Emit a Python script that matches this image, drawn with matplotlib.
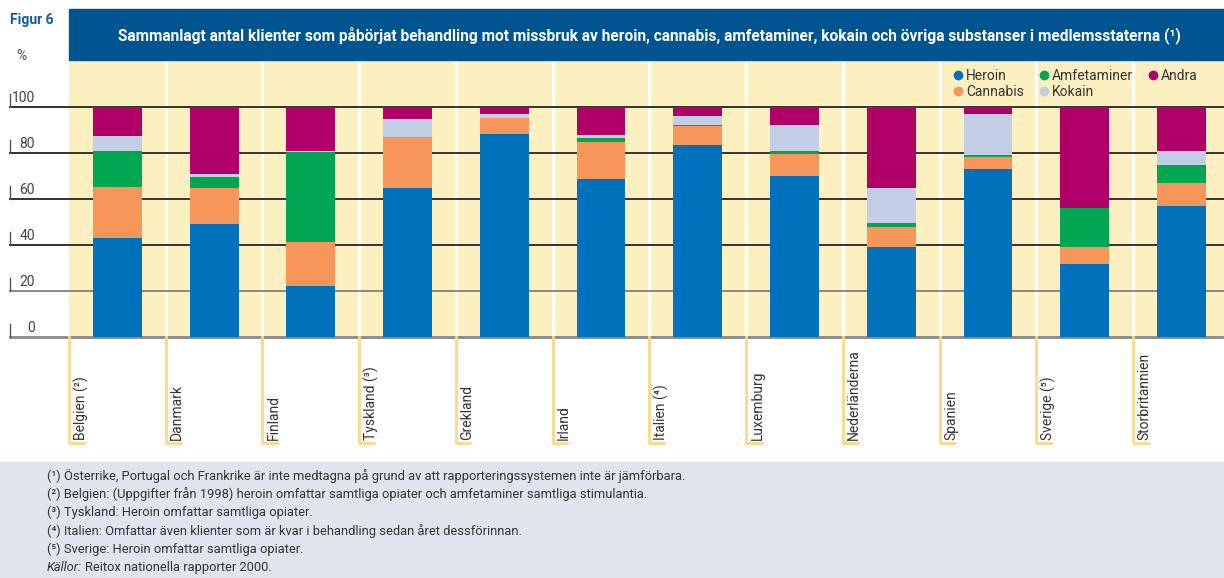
import numpy as np
import matplotlib
matplotlib.use("Agg")
import matplotlib.pyplot as plt
from matplotlib.lines import Line2D

plt.rcParams['font.family'] = ['Roboto', 'DejaVu Sans']

countries = ["Belgien (²)", "Danmark", "Finland", "Tyskland (³)", "Grekland", "Irland",
             "Italien (⁴)", "Luxemburg", "Nederländerna", "Spanien", "Sverige (⁵)",
             "Storbritannien"]
heroin      = [43.0, 49.0, 22.2, 64.7, 88.3, 68.8, 83.6, 70.0, 39.1, 73.0, 31.7, 57.0]
cannabis    = [22.0, 15.7, 19.1, 22.3,  7.0, 16.0,  7.9,  9.6,  8.7,  5.3,  7.4, 10.0]
amfetaminer = [16.0,  4.8, 39.1,  0.0,  0.0,  1.8,  0.5,  1.3,  1.8,  0.8, 17.0,  7.8]
kokain      = [ 6.5,  1.3,  0.5,  7.9,  1.8,  1.3,  4.2, 11.3, 15.2, 17.9,  0.0,  6.1]
andra       = [12.5, 29.2, 19.1,  5.1,  2.9, 12.1,  3.8,  7.8, 35.2,  3.0, 43.9, 19.1]

series = [("Heroin", heroin, "#0072bc"),
          ("Cannabis", cannabis, "#f7965a"),
          ("Amfetaminer", amfetaminer, "#00a651"),
          ("Kokain", kokain, "#c2cee4"),
          ("Andra", andra, "#b00068")]

title = ("Sammanlagt antal klienter som påbörjat behandling mot missbruk av heroin, "
         "cannabis, amfetaminer, kokain och övriga substanser i medlemsstaterna (¹)")
notes = ["(¹) Österrike, Portugal och Frankrike är inte medtagna på grund av att rapporteringssystemen inte är jämförbara.",
         "(²) Belgien: (Uppgifter från 1998) heroin omfattar samtliga opiater och amfetaminer samtliga stimulantia.",
         "(³) Tyskland: Heroin omfattar samtliga opiater.",
         "(⁴) Italien: Omfattar även klienter som är kvar i behandling sedan året dessförinnan.",
         "(⁵) Sverige: Heroin omfattar samtliga opiater."]
yticks = [0, 20, 40, 60, 80, 100]

W, H = 1224, 578
fig = plt.figure(figsize=(W / 100, H / 100), dpi=100)

# footnote box
fig.patches.append(plt.Rectangle((0, 0), 1, 1 - 462 / H, transform=fig.transFigure,
                                  color="#dfe4ef", zorder=0))
# title banner
fig.patches.append(plt.Rectangle((69 / W, 1 - 60 / H), 1 - 69 / W, 51 / H,
                                  transform=fig.transFigure, color="#00548f", zorder=0))
fig.text(649 / W, 1 - 35 / H, title, color="white", fontsize=11.2, fontweight="bold",
         ha="center", va="center")
fig.text(10 / W, 1 - 20 / H, "Figur 6", color="#0a5fa0", fontsize=10,
         fontweight="bold", ha="left", va="center")
fig.text(16 / W, 1 - 56 / H, "%", color="#555555", fontsize=10, ha="left", va="center")

ax = fig.add_axes([69 / W, 1 - 337 / H, 1 - 69 / W, (337 - 60) / H])
ax.set_facecolor("#fdf0c0")
n = len(countries)
ax.set_xlim(0, 11.94)
ax.set_ylim(0, 120.4)
for s in ax.spines.values():
    s.set_visible(False)
ax.set_xticks([])
ax.set_yticks([])

# white slot separators
for i in range(1, n):
    ax.axvline(i, color="white", lw=2, zorder=0.5)

# grid lines extended into left margin, with small tick marks and labels
ytr = ax.get_yaxis_transform()
x0 = (10 - 69) / (W - 69)
xl = (35 - 69) / (W - 69)
for v in yticks:
    col = "#888888" if v in (0, 20) else "#333333"
    lw = 2.0 if v == 0 else 1.4
    ax.add_line(Line2D([x0, 1], [v, v], transform=ytr, color=col, lw=lw,
                       clip_on=False, zorder=1))
    ax.add_line(Line2D([x0, x0], [v, v + 5.5], transform=ytr, color="#555555", lw=1,
                       clip_on=False, zorder=1))
    ax.text(xl, v + 1.0, str(v), transform=ytr, ha="right", va="bottom",
            fontsize=10, color="#444444", clip_on=False)

# stacked bars
x = np.arange(n) + 0.5
bottom = np.zeros(n)
for name, vals, color in series:
    vals = np.array(vals)
    ax.bar(x, vals, width=0.505, bottom=bottom, color=color, label=name, zorder=2)
    bottom += vals

# category label brackets and rotated labels
xtr = ax.get_xaxis_transform()
yb = -(443 - 337) / (337 - 60)
for i, name in enumerate(countries):
    ax.add_line(Line2D([i, i, i + 0.15], [0, yb, yb], transform=xtr, color="#fbd88a",
                       lw=2, clip_on=False, zorder=1))
    ax.text(i + 0.045, yb + 0.01, name, transform=xtr, rotation=90, ha="left", va="bottom",
            fontsize=10, color="#333333", clip_on=False)

# legend
handles = [Line2D([], [], marker="o", ls="", color=c, markersize=6) for _, _, c in series]
labels = [nm for nm, _, _ in series]
leg = ax.legend(handles, labels, ncol=3, loc="upper right", bbox_to_anchor=(0.985, 1.0),
                frameon=False, fontsize=10, handletextpad=0.1, columnspacing=0.9,
                labelspacing=0.15, handlelength=1.0, borderaxespad=0.25)
for t in leg.get_texts():
    t.set_color("#333333")

# footnotes
for k, line in enumerate(notes):
    fig.text(47 / W, 1 - (476 + 18.3 * k) / H, line, fontsize=9.3, color="#333333",
             ha="left", va="center")
ysrc = 1 - (476 + 18.3 * 5) / H
t1 = fig.text(47 / W, ysrc, "Källor:", fontsize=9.3, color="#333333", style="italic",
              ha="left", va="center")
fig.canvas.draw()
bb = t1.get_window_extent()
fig.text((bb.x1 + 3) / W, ysrc, "Reitox nationella rapporter 2000.", fontsize=9.3,
         color="#333333", ha="left", va="center")

fig.savefig("out.png", dpi=100)
